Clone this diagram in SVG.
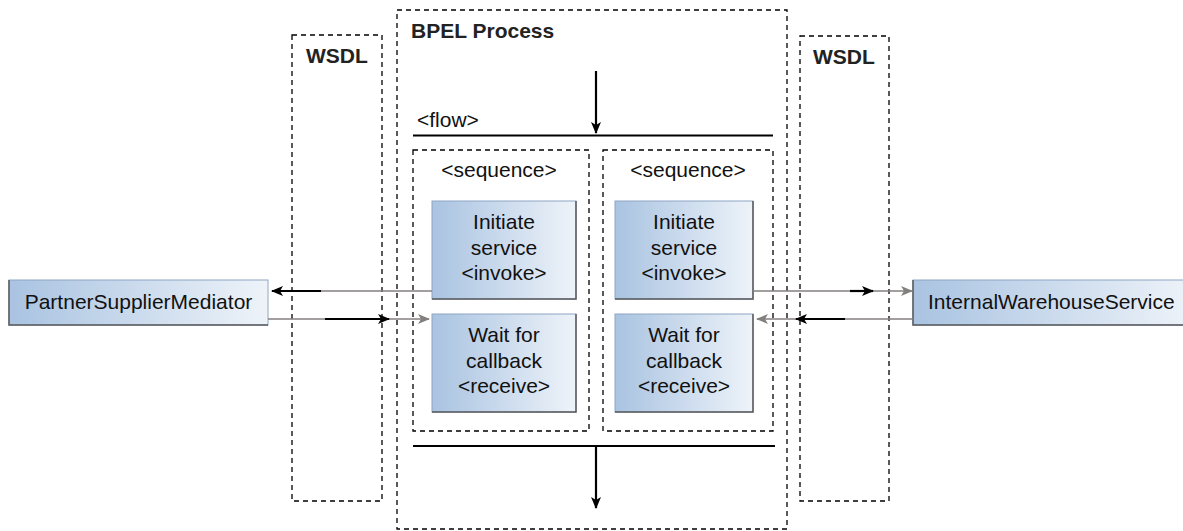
<svg xmlns="http://www.w3.org/2000/svg" width="1183" height="531" viewBox="0 0 1183 531">
<style>
.dash{fill:none;stroke:#000;stroke-width:1.3;stroke-dasharray:5,4}
.t{font-family:"Liberation Sans",Arial,sans-serif;font-size:21px;fill:#111}
.b{font-family:"Liberation Sans",Arial,sans-serif;font-size:21px;font-weight:bold;fill:#222}
.c{text-anchor:middle}
.box{fill:url(#g);stroke:#8ea6c4;stroke-width:1}
.sh{fill:none;stroke:#5a5a5a;stroke-width:1.5}
.k{stroke:#000;stroke-width:2.2;fill:none}
.gr{stroke:#847f7f;stroke-width:1.6;fill:none}
</style>
<defs>
<linearGradient id="g" x1="0" y1="0" x2="1" y2="0">
<stop offset="0" stop-color="#a9c3e1"/>
<stop offset="1" stop-color="#eef3f9"/>
</linearGradient>
<marker id="ak" viewBox="0 0 12 10" refX="11" refY="5" markerWidth="12" markerHeight="10" markerUnits="userSpaceOnUse" orient="auto">
<path d="M0,0 L12,5 L0,10 L3,5 Z" fill="#000"/>
</marker>
<marker id="ag" viewBox="0 0 12 10" refX="11" refY="5" markerWidth="12" markerHeight="10" markerUnits="userSpaceOnUse" orient="auto">
<path d="M0,0 L12,5 L0,10 L3,5 Z" fill="#847f7f"/>
</marker>
</defs>
<rect width="1183" height="531" fill="#fff"/>

<g id="wsdl-left">
<rect class="dash" x="292" y="35" width="90" height="466"/>
<text class="b" x="306" y="63">WSDL</text>
</g>
<g id="wsdl-right">
<rect class="dash" x="800" y="36" width="89" height="465"/>
<text class="b" x="813" y="64">WSDL</text>
</g>
<g id="bpel">
<rect class="dash" x="397" y="10" width="390" height="519"/>
<text class="b" x="411" y="38">BPEL Process</text>
</g>
<g id="flow">
<text class="t" x="417" y="127">&lt;flow&gt;</text>
<line x1="413" y1="135.5" x2="773" y2="135.5" stroke="#000" stroke-width="2.2"/>
<line x1="413" y1="446" x2="775" y2="446" stroke="#000" stroke-width="2.2"/>
</g>
<g id="seq-left">
<rect class="dash" x="413" y="150" width="176" height="281"/>
<text class="t c" x="499" y="177">&lt;sequence&gt;</text>
</g>
<g id="seq-right">
<rect class="dash" x="603" y="150" width="170" height="281"/>
<text class="t c" x="688" y="177">&lt;sequence&gt;</text>
</g>

<g id="invoke-left">
<rect class="box" x="432" y="201" width="144" height="98"/>
<path class="sh" d="M432,299 H576 V201"/>
<text class="t c" x="504" y="229">Initiate</text>
<text class="t c" x="504" y="255">service</text>
<text class="t c" x="504" y="280">&lt;invoke&gt;</text>
</g>
<g id="receive-left">
<rect class="box" x="432" y="314" width="144" height="98"/>
<path class="sh" d="M432,412 H576 V314"/>
<text class="t c" x="504" y="342">Wait for</text>
<text class="t c" x="504" y="368">callback</text>
<text class="t c" x="504" y="393">&lt;receive&gt;</text>
</g>
<g id="invoke-right">
<rect class="box" x="615" y="201" width="138" height="98"/>
<path class="sh" d="M615,299 H753 V201"/>
<text class="t c" x="684" y="229">Initiate</text>
<text class="t c" x="684" y="255">service</text>
<text class="t c" x="684" y="280">&lt;invoke&gt;</text>
</g>
<g id="receive-right">
<rect class="box" x="615" y="314" width="138" height="98"/>
<path class="sh" d="M615,412 H753 V314"/>
<text class="t c" x="684" y="342">Wait for</text>
<text class="t c" x="684" y="368">callback</text>
<text class="t c" x="684" y="393">&lt;receive&gt;</text>
</g>
<g id="partner">
<rect class="box" x="9" y="280" width="259" height="45"/>
<path class="sh" d="M9,280 V325 H268"/>
<text class="t c" x="138.5" y="309">PartnerSupplierMediator</text>
</g>
<g id="warehouse">
<rect class="box" x="913" y="280" width="280" height="45"/>
<path class="sh" d="M913,280 V325 H1190"/>
<text class="t" x="928" y="309">InternalWarehouseService</text>
</g>

<g id="connectors">
<line class="k" x1="596" y1="71" x2="596" y2="133" marker-end="url(#ak)"/>
<line class="k" x1="596" y1="446" x2="596" y2="508" marker-end="url(#ak)"/>
<line class="gr" x1="432" y1="291" x2="320" y2="291"/>
<line class="k" x1="321" y1="291" x2="272" y2="291" marker-end="url(#ak)"/>
<line class="gr" x1="268" y1="319" x2="326" y2="319"/>
<line class="gr" x1="385" y1="319" x2="429" y2="319" marker-end="url(#ag)"/>
<line class="k" x1="325" y1="319" x2="389" y2="319" marker-end="url(#ak)"/>
<line class="gr" x1="753" y1="291" x2="851" y2="291"/>
<line class="gr" x1="869" y1="291" x2="912" y2="291" marker-end="url(#ag)"/>
<line class="k" x1="850" y1="291" x2="873" y2="291" marker-end="url(#ak)"/>
<line class="gr" x1="913" y1="319" x2="844" y2="319"/>
<line class="gr" x1="800" y1="319" x2="757" y2="319" marker-end="url(#ag)"/>
<line class="k" x1="845" y1="319" x2="796" y2="319" marker-end="url(#ak)"/>
</g>
</svg>
